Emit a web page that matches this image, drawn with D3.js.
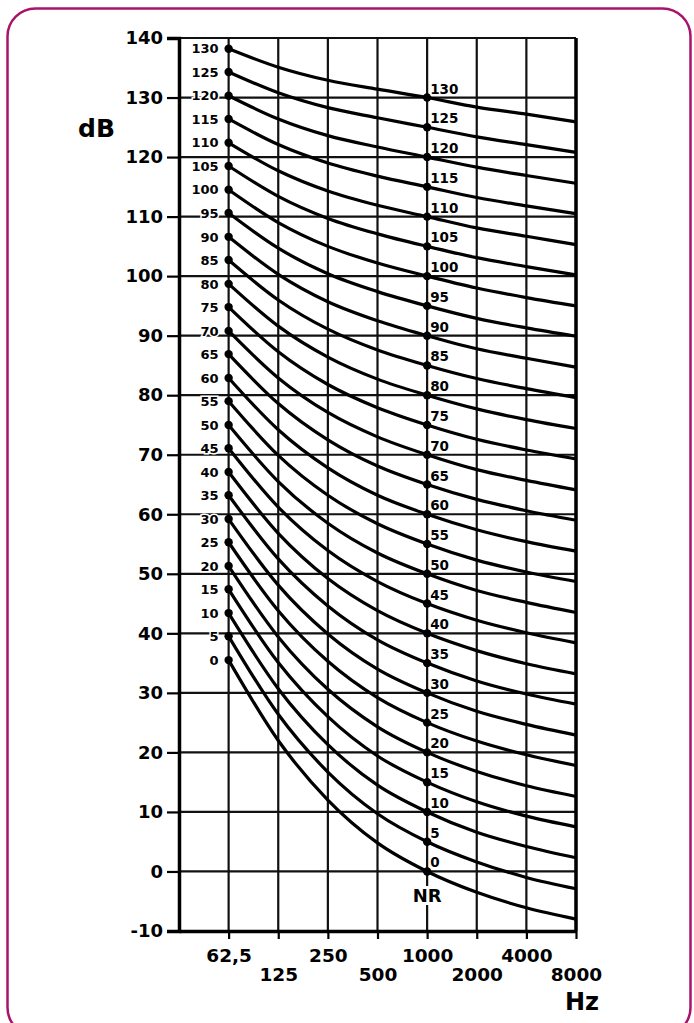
<!DOCTYPE html>
<html>
<head>
<meta charset="utf-8">
<script src="https://cdn.jsdelivr.net/npm/d3@7"></script>
<style>
  body { margin: 0; background: #fff; }
  text { font-family: "DejaVu Sans", sans-serif; font-weight: bold; fill: #000; }
</style>
</head>
<body>
<svg id="chart"></svg>
<script>
'use strict'

// octave band centre frequencies (labels as printed)
const freqs = ['31.5', '62,5', '125', '250', '500', '1000', '2000', '4000', '8000']
const curveFreqs = ['62,5', '125', '250', '500', '1000', '2000', '4000', '8000']
const dbTicks = [-10, 0, 10, 20, 30, 40, 50, 60, 70, 80, 90, 100, 110, 120, 130, 140]
const nrLevels = [0, 5, 10, 15, 20, 25, 30, 35, 40, 45, 50, 55, 60, 65, 70, 75, 80, 85, 90, 95, 100, 105, 110, 115, 120, 125, 130]

// sound pressure level per curve, at 62,5 ... 8000 Hz
const nrValues = [
    [35.5, 22.0, 12.0, 4.8, 0, -3.5, -6.1, -8.0],
    [39.5, 26.4, 16.7, 9.7, 5, 1.6, -1.0, -2.9],
    [43.4, 30.7, 21.3, 14.5, 10, 6.6, 4.2, 2.3],
    [47.4, 35.1, 26.0, 19.4, 15, 11.7, 9.3, 7.5],
    [51.3, 39.4, 30.6, 24.3, 20, 16.8, 14.4, 12.6],
    [55.3, 43.8, 35.3, 29.2, 25, 21.9, 19.6, 17.8],
    [59.2, 48.1, 39.9, 34.0, 30, 26.9, 24.7, 22.9],
    [63.2, 52.5, 44.6, 38.9, 35, 32.0, 29.8, 28.1],
    [67.1, 56.8, 49.2, 43.8, 40, 37.1, 34.9, 33.2],
    [71.1, 61.2, 53.9, 48.7, 45, 42.2, 40.1, 38.4],
    [75.0, 65.5, 58.5, 53.5, 50, 47.2, 45.2, 43.5],
    [79.0, 69.9, 63.2, 58.4, 55, 52.3, 50.3, 48.7],
    [82.9, 74.2, 67.8, 63.2, 60, 57.4, 55.4, 53.8],
    [86.9, 78.6, 72.5, 68.1, 65, 62.5, 60.6, 59.0],
    [90.8, 82.9, 77.1, 73.0, 70, 67.5, 65.7, 64.1],
    [94.8, 87.3, 81.8, 77.9, 75, 72.6, 70.8, 69.3],
    [98.7, 91.6, 86.4, 82.7, 80, 77.7, 75.9, 74.4],
    [102.7, 96.0, 91.1, 87.6, 85, 82.8, 81.1, 79.6],
    [106.6, 100.3, 95.7, 92.5, 90, 87.8, 86.2, 84.7],
    [110.6, 104.7, 100.4, 97.4, 95, 92.9, 91.3, 89.9],
    [114.5, 109.0, 105.0, 102.2, 100, 98.0, 96.4, 95.0],
    [118.5, 113.4, 109.7, 107.1, 105, 103.1, 101.6, 100.2],
    [122.4, 117.7, 114.3, 111.9, 110, 108.1, 106.7, 105.3],
    [126.4, 122.1, 119.0, 116.8, 115, 113.2, 111.8, 110.5],
    [130.3, 126.4, 123.6, 121.7, 120, 118.3, 116.9, 115.6],
    [134.3, 130.8, 128.3, 126.6, 125, 123.4, 122.1, 120.8],
    [138.2, 135.1, 132.9, 131.4, 130, 128.4, 127.2, 125.9]
]

const width = 694, height = 1023
const svg = d3.select('#chart')
    .attr('width', width)
    .attr('height', height)

// frame
svg.append('rect')
    .attr('x', 7.5).attr('y', 8.5)
    .attr('width', 683).attr('height', 1027)
    .attr('rx', 28)
    .attr('fill', 'none')
    .attr('stroke', '#a8146c')
    .attr('stroke-width', 2.5)

const x = d3.scalePoint()
    .domain(freqs)
    .range([179, 576])

const y = d3.scaleLinear()
    .domain([-10, 140])
    .range([931, 38])

// grid
svg.append('g')
    .selectAll('line')
    .data(dbTicks)
    .join('line')
    .attr('x1', x('31.5')).attr('x2', x('8000'))
    .attr('y1', d => y(d)).attr('y2', d => y(d))
    .attr('stroke', '#111')
    .attr('stroke-width', 2.2)

svg.append('g')
    .selectAll('line')
    .data(freqs.slice(1))
    .join('line')
    .attr('x1', d => x(d)).attr('x2', d => x(d))
    .attr('y1', y(140)).attr('y2', y(-10))
    .attr('stroke', '#111')
    .attr('stroke-width', 2.2)

// y axis
const yAxis = svg.append('g')
    .attr('transform', 'translate(' + x('31.5') + ',0)')
    .call(d3.axisLeft(y).tickValues(dbTicks).tickFormat(d => String(d)).tickSize(12).tickPadding(4))
yAxis.select('.domain').attr('stroke-width', 3.5)
yAxis.selectAll('.tick line').attr('stroke-width', 2.2)
yAxis.selectAll('.tick text')
    .style('font-size', '18px')
    .style('font-family', '"DejaVu Sans", sans-serif')
    .style('font-weight', 'bold')

// x axis
const xAxis = svg.append('g')
    .attr('transform', 'translate(0,' + y(-10) + ')')
    .call(d3.axisBottom(x).tickValues(freqs.slice(1)).tickSize(8).tickSizeOuter(0).tickPadding(10))
xAxis.select('.domain').attr('stroke-width', 3.5)
xAxis.selectAll('.tick line').attr('stroke-width', 2.2)
xAxis.selectAll('.tick text')
    .attr('y', (d, i) => i % 2 === 0 ? 31 : 50)
    .attr('dy', 0)
    .style('font-size', '18.5px')
    .style('font-family', '"DejaVu Sans", sans-serif')
    .style('font-weight', 'bold')

// right border
svg.append('line')
    .attr('x1', x('8000')).attr('x2', x('8000'))
    .attr('y1', y(140)).attr('y2', y(-10))
    .attr('stroke', '#000')
    .attr('stroke-width', 3.5)

// curves
const line = d3.line()
    .x((d, i) => x(curveFreqs[i]))
    .y(d => y(d))
    .curve(d3.curveMonotoneX)

svg.append('g')
    .selectAll('path')
    .data(nrValues)
    .join('path')
    .attr('d', line)
    .attr('fill', 'none')
    .attr('stroke', '#000')
    .attr('stroke-width', 3.2)

// dots at 62,5 and 1000 Hz
const dots = []
nrValues.forEach((row, i) => {
    dots.push({ f: '62,5', v: row[0], nr: nrLevels[i] })
    dots.push({ f: '1000', v: row[4], nr: nrLevels[i] })
})
svg.append('g')
    .selectAll('circle')
    .data(dots)
    .join('circle')
    .attr('cx', d => x(d.f))
    .attr('cy', d => y(d.v))
    .attr('r', 4.2)
    .attr('fill', '#000')

// curve labels
const haloed = sel => sel
    .attr('stroke', '#fff')
    .attr('stroke-width', 3)
    .attr('paint-order', 'stroke')

svg.append('g')
    .selectAll('text')
    .data(nrValues)
    .join('text')
    .attr('x', x('62,5') - 10)
    .attr('y', d => y(d[0]))
    .attr('dy', '0.36em')
    .attr('text-anchor', 'end')
    .style('font-size', '13px')
    .text((d, i) => nrLevels[i])
    .call(haloed)

svg.append('g')
    .selectAll('text')
    .data(nrValues)
    .join('text')
    .attr('x', x('1000') + 3)
    .attr('y', d => y(d[4]) - 4)
    .style('font-size', '13.5px')
    .text((d, i) => nrLevels[i])
    .call(haloed)

svg.append('text')
    .attr('x', x('1000'))
    .attr('y', y(0) + 31)
    .attr('text-anchor', 'middle')
    .style('font-size', '18px')
    .text('NR')
    .attr('stroke', '#fff')
    .attr('stroke-width', 6)
    .attr('paint-order', 'stroke')

// axis titles
svg.append('text')
    .attr('x', 78).attr('y', 137)
    .style('font-size', '25px')
    .text('dB')

svg.append('text')
    .attr('x', 599).attr('y', 1010)
    .attr('text-anchor', 'end')
    .style('font-size', '24px')
    .text('Hz')
</script>
</body>
</html>
